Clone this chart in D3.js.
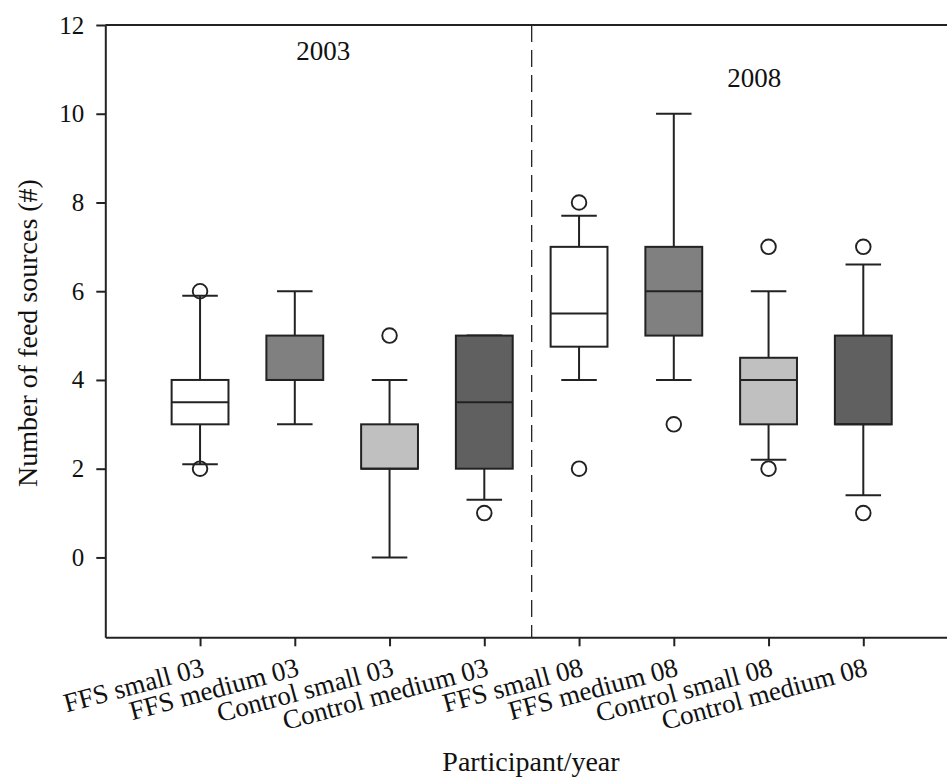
<!DOCTYPE html>
<html>
<head>
<meta charset="utf-8">
<script src="https://cdn.jsdelivr.net/npm/d3@7"></script>
<style>
  html, body { margin: 0; padding: 0; background: #fff; }
  svg { display: block; }
  text { font-family: "Liberation Serif", "Times New Roman", serif; fill: #111; }
</style>
</head>
<body>
<svg id="chart" width="947" height="784"></svg>
<script>
// ---- data ----
const categories = ["FFS small 03", "FFS medium 03", "Control small 03", "Control medium 03",
                    "FFS small 08", "FFS medium 08", "Control small 08", "Control medium 08"];
const whiskerLow  = [2.1, 3, 0, 1.3, 4, 4, 2.2, 1.4];
const q1          = [3, 4, 2, 2, 4.75, 5, 3, 3];
const median      = [3.5, 4, 2, 3.5, 5.5, 6, 4, 3];
const q3          = [4, 5, 3, 5, 7, 7, 4.5, 5];
const whiskerHigh = [5.9, 6, 4, 5, 7.7, 10, 6, 6.6];
const outliers    = [[6, 2], [], [5], [1], [8, 2], [3], [7, 2], [7, 1]];
const boxFills    = ["#ffffff", "#808080", "#c0c0c0", "#606060", "#ffffff", "#808080", "#c0c0c0", "#606060"];
const yTicks      = [0, 2, 4, 6, 8, 10, 12];
const yearLabels  = ["2003", "2008"];

// ---- layout ----
const svg = d3.select("#chart");
const mLeft = 105.3, mTop = 25, mBottom = 637.3, mRight = 947;
const step = 94.75;

const x = d3.scaleLinear().domain([0, (mRight - mLeft) / step]).range([mLeft, mRight]);
const y = d3.scaleLinear().domain([-1.8, 12]).range([mBottom, mTop]);
const boxW = step * 0.6;
const capW = step * 0.375;

// dashed separator
svg.append("line")
  .attr("x1", x(4.5)).attr("x2", x(4.5))
  .attr("y1", y(12)).attr("y2", y(-1.8))
  .attr("stroke", "#222").attr("stroke-width", 1.3)
  .attr("stroke-dasharray", "17,8");

// top frame line
svg.append("line")
  .attr("x1", mLeft).attr("x2", mRight)
  .attr("y1", y(12)).attr("y2", y(12))
  .attr("stroke", "#222").attr("stroke-width", 2);

// y axis
const yAxis = svg.append("g")
  .attr("transform", `translate(${mLeft},0)`)
  .call(d3.axisLeft(y).tickValues(yTicks).tickSize(9).tickSizeOuter(0).tickPadding(12));
yAxis.select(".domain").attr("stroke", "#222").attr("stroke-width", 2);
yAxis.selectAll(".tick line").attr("stroke", "#222").attr("stroke-width", 2);
yAxis.selectAll(".tick text")
  .style("font-family", '"Liberation Serif", "Times New Roman", serif')
  .style("font-size", "25px").attr("fill", "#111");

// x axis
const xAxis = svg.append("g")
  .attr("transform", `translate(0,${mBottom})`)
  .call(d3.axisBottom(x).tickValues(d3.range(1, categories.length + 1))
        .tickFormat(d => categories[d - 1]).tickSize(9).tickSizeOuter(0));
xAxis.select(".domain").attr("stroke", "#222").attr("stroke-width", 2);
xAxis.selectAll(".tick line").attr("stroke", "#222").attr("stroke-width", 2);
xAxis.selectAll(".tick text")
  .style("font-family", '"Liberation Serif", "Times New Roman", serif')
  .style("font-size", "27px").attr("fill", "#111")
  .attr("text-anchor", "end")
  .attr("dy", null)
  .attr("y", null)
  .attr("transform", "translate(5,38) rotate(-15)");

// boxes
const idx = d3.range(categories.length);
const g = svg.append("g");
idx.forEach(i => {
  const cx = x(i + 1);
  g.append("line").attr("x1", cx).attr("x2", cx)
    .attr("y1", y(q3[i])).attr("y2", y(whiskerHigh[i]))
    .attr("stroke", "#222").attr("stroke-width", 2);
  g.append("line").attr("x1", cx).attr("x2", cx)
    .attr("y1", y(q1[i])).attr("y2", y(whiskerLow[i]))
    .attr("stroke", "#222").attr("stroke-width", 2);
  [whiskerHigh[i], whiskerLow[i]].forEach(v => {
    g.append("line").attr("x1", cx - capW / 2).attr("x2", cx + capW / 2)
      .attr("y1", y(v)).attr("y2", y(v))
      .attr("stroke", "#222").attr("stroke-width", 2);
  });
  g.append("rect")
    .attr("x", cx - boxW / 2).attr("width", boxW)
    .attr("y", y(q3[i])).attr("height", y(q1[i]) - y(q3[i]))
    .attr("fill", boxFills[i]).attr("stroke", "#222").attr("stroke-width", 2);
  g.append("line").attr("x1", cx - boxW / 2).attr("x2", cx + boxW / 2)
    .attr("y1", y(median[i])).attr("y2", y(median[i]))
    .attr("stroke", "#222").attr("stroke-width", 2);
  outliers[i].forEach(v => {
    g.append("circle").attr("cx", cx).attr("cy", y(v)).attr("r", 7.3)
      .attr("fill", "none").attr("stroke", "#222").attr("stroke-width", 1.9);
  });
});

// year labels
svg.append("text").attr("x", x(2.3)).attr("y", 60)
  .attr("text-anchor", "middle").style("font-size", "27px").text(yearLabels[0]);
svg.append("text").attr("x", x(6.85)).attr("y", 87)
  .attr("text-anchor", "middle").style("font-size", "27px").text(yearLabels[1]);

// axis titles
svg.append("text")
  .attr("transform", `translate(37,333) rotate(-90)`)
  .attr("text-anchor", "middle").style("font-size", "28px")
  .text("Number of feed sources (#)");
svg.append("text").attr("x", 531).attr("y", 771)
  .attr("text-anchor", "middle").style("font-size", "28px")
  .text("Participant/year");
</script>
</body>
</html>
